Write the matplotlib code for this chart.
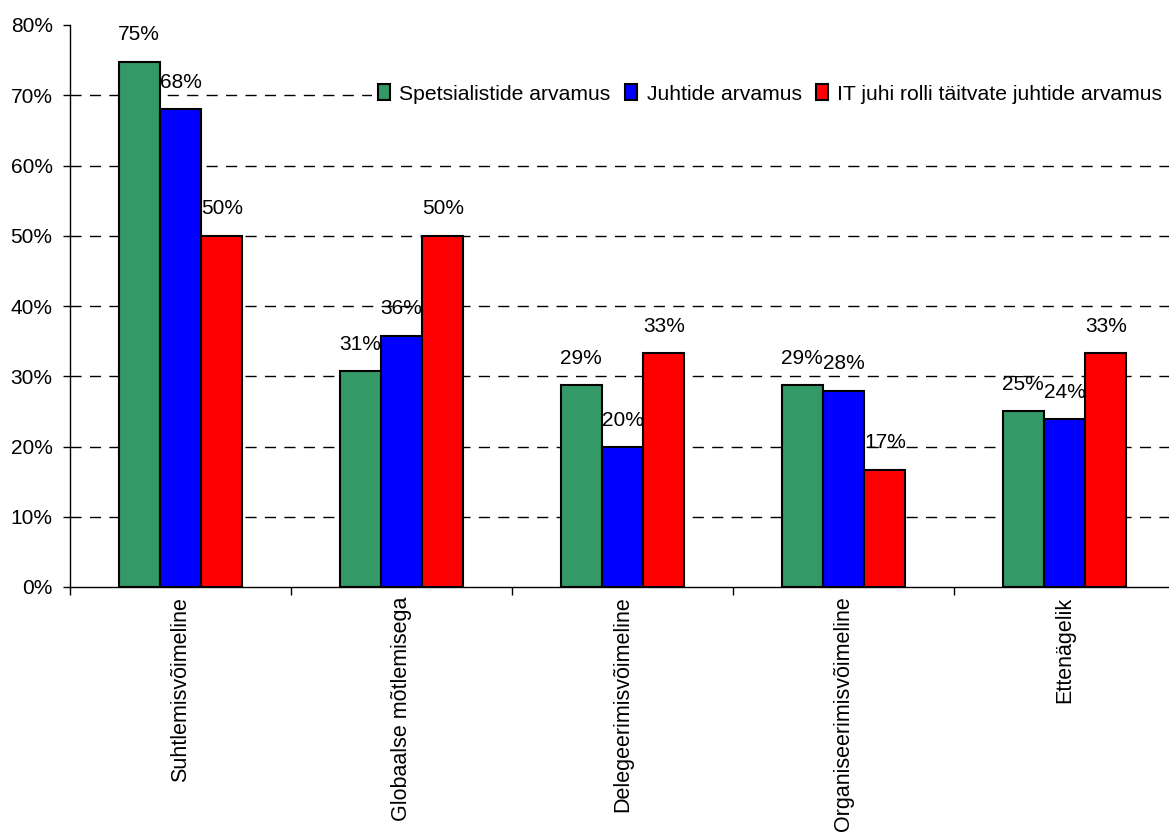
import numpy as np
import matplotlib
matplotlib.use('Agg')
import matplotlib.pyplot as plt
from matplotlib.ticker import PercentFormatter

categories = ['Suhtlemisvõimeline', 'Globaalse mõtlemisega', 'Delegeerimisvõimeline',
              'Organiseerimisvõimeline', 'Ettenägelik']
series_names = ['Spetsialistide arvamus', 'Juhtide arvamus',
                'IT juhi rolli täitvate juhtide arvamus']
spets = [74.8, 30.7, 28.7, 28.7, 25.0]
juhid = [68.0, 35.8, 19.9, 27.9, 23.9]
it_juhid = [50.0, 50.0, 33.3, 16.7, 33.3]
colors = ['#339966', '#0000FF', '#FF0000']

plt.rcParams['font.family'] = ['Liberation Sans', 'DejaVu Sans']

fig = plt.figure(figsize=(11.69, 8.34), dpi=100)
ax = fig.add_axes([70 / 1169, 247 / 834, 1105 / 1169, 562 / 834])

x = np.arange(len(categories))
w = 0.187
for i, (vals, name, col) in enumerate(zip([spets, juhid, it_juhid], series_names, colors)):
    pos = x + (i - 1) * w
    ax.bar(pos, vals, w, color=col, edgecolor='black', linewidth=1.5, label=name, zorder=3)
    for px, v in zip(pos, vals):
        ax.annotate('%d%%' % round(v), (px, v), xytext=(0, 15.5), textcoords='offset points',
                    ha='center', va='baseline', fontsize=15, zorder=4)

ax.set_xlim(-0.5, 4.5)
ax.set_ylim(0, 80)
ax.set_yticks(np.arange(0, 81, 10))
ax.yaxis.set_major_formatter(PercentFormatter(decimals=0))
ax.set_xticks(np.arange(-0.5, 4.6, 1.0))
ax.set_xticklabels([])
ax.set_xticks(x, minor=True)
ax.set_xticklabels(categories, minor=True, rotation=90, fontsize=15.5)
ax.tick_params(axis='x', which='minor', length=0, pad=7)
ax.tick_params(axis='x', which='major', length=6, width=1)
ax.tick_params(axis='y', length=5, width=1, labelsize=15, pad=7.5)

for gy in range(10, 80, 10):
    ax.axhline(gy, color='black', linestyle=(0, (8, 6)), linewidth=1, zorder=1)

for s in ['top', 'right']:
    ax.spines[s].set_visible(False)
for s in ['left', 'bottom']:
    ax.spines[s].set_linewidth(1)

leg = ax.legend(loc='center left', bbox_to_anchor=(302 / 1105, 1 - 69 / 562), ncol=3,
                frameon=True, fontsize=15.2, handlelength=0.55, handleheight=0.75,
                handletextpad=0.45, columnspacing=0.7, borderaxespad=0, borderpad=0.3)
leg.get_frame().set_edgecolor('none')
leg.get_frame().set_facecolor('white')
leg.get_frame().set_alpha(1)
leg.set_zorder(5)

fig.savefig('out.png', dpi=100)
